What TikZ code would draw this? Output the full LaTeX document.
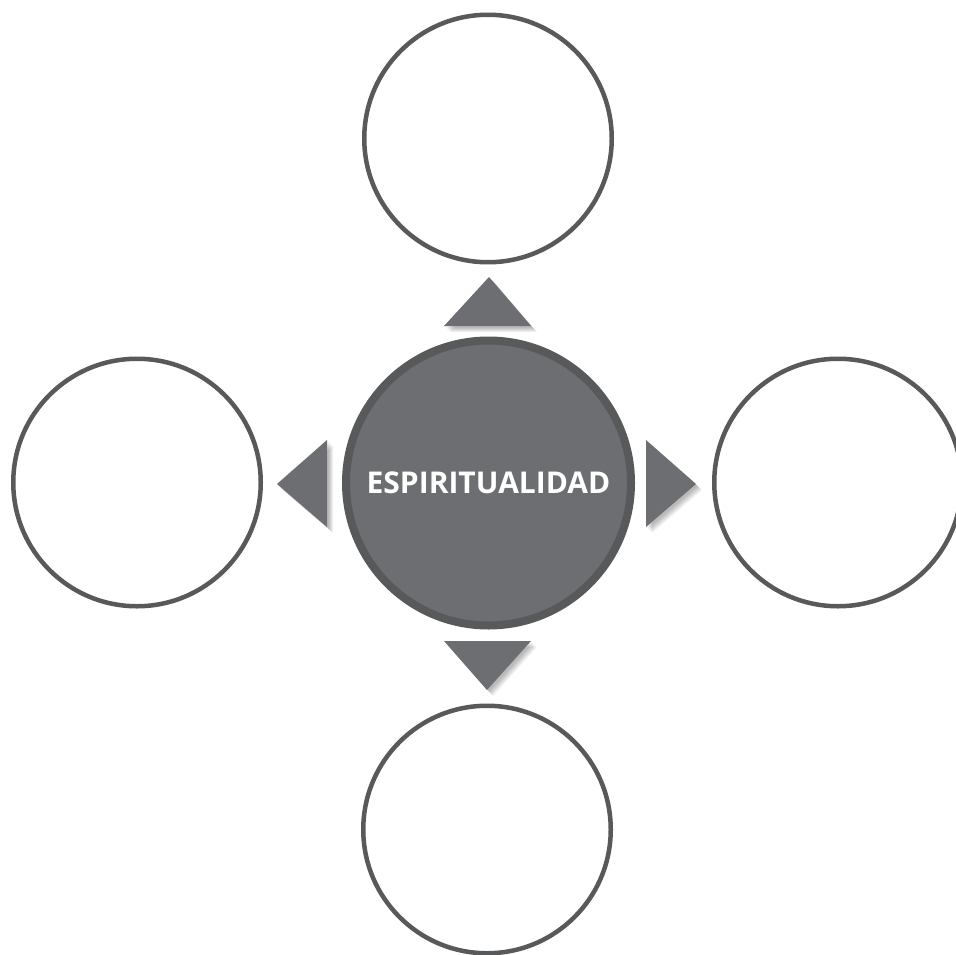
\documentclass[tikz,border=0pt]{standalone}
\usepackage{fontspec}
\setmainfont{Open Sans}
\usetikzlibrary{calc}
\definecolor{ringgray}{HTML}{58595B}
\definecolor{fillgray}{HTML}{6D6E71}
\tikzset{
  ring/.style={circle, draw=ringgray, line width=4.5pt, fill=white, minimum size=247.5pt, inner sep=0pt},
  hub/.style={circle, draw=ringgray, line width=8pt, fill=fillgray, minimum size=285pt, inner sep=0pt,
    text=white, font=\bfseries\fontsize{30}{36}\selectfont},
  arrowtri/.style={fill=fillgray, draw=none},
  shadowtri/.style={fill=black, draw=none, opacity=0.06}
}
\begin{document}
\begin{tikzpicture}[x=1pt,y=-1pt]
\useasboundingbox (0,0) rectangle (955,955);
\fill[white] (0,0) rectangle (955,955);
\node[ring] (top) at (488,138.5) {};
\node[ring] (left) at (137,482.5) {};
\node[ring] (right) at (838,482.5) {};
\node[ring] (bottom) at (487,829.5) {};
\node[hub] (hub) at (488.5,483) {ESPIRITUALIDAD};
% triangle shadows
\foreach \d in {2,3,4,5,6}{
  \fill[shadowtri] ($(444,326)+(\d,\d)$) -- ($(489,277)+(\d,\d)$) -- ($(531,326)+(\d,\d)$) -- cycle;
  \fill[shadowtri] ($(327,440)+(\d,\d)$) -- ($(277,484)+(\d,\d)$) -- ($(327,527)+(\d,\d)$) -- cycle;
  \fill[shadowtri] ($(646,440)+(\d,\d)$) -- ($(696,484)+(\d,\d)$) -- ($(646,527)+(\d,\d)$) -- cycle;
  \fill[shadowtri] ($(444,641)+(\d,\d)$) -- ($(487,690)+(\d,\d)$) -- ($(531,641)+(\d,\d)$) -- cycle;
}
\coordinate (tA) at (444,326); \coordinate (tB) at (489,277); \coordinate (tC) at (531,326);
\coordinate (lA) at (327,440); \coordinate (lB) at (277,484); \coordinate (lC) at (327,527);
\coordinate (rA) at (646,440); \coordinate (rB) at (696,484); \coordinate (rC) at (646,527);
\coordinate (bA) at (444,641); \coordinate (bB) at (487,690); \coordinate (bC) at (531,641);
\fill[arrowtri] (tA) -- (tB) -- (tC) -- cycle;
\fill[arrowtri] (lA) -- (lB) -- (lC) -- cycle;
\fill[arrowtri] (rA) -- (rB) -- (rC) -- cycle;
\fill[arrowtri] (bA) -- (bB) -- (bC) -- cycle;
\end{tikzpicture}
\end{document}
